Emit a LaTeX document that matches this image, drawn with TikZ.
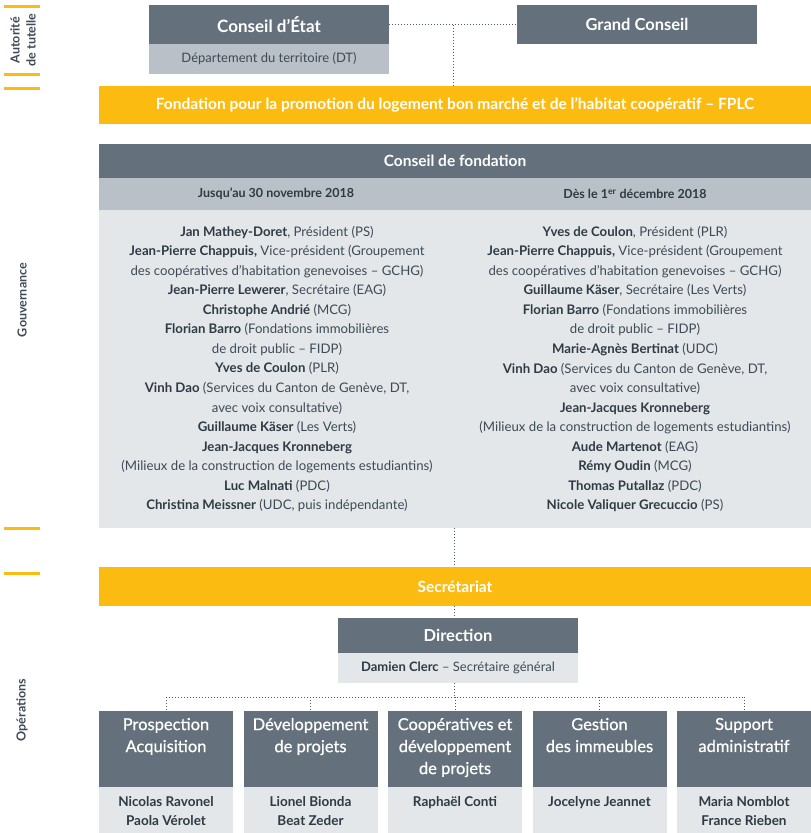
\documentclass[tikz,border=0pt]{standalone}
\usepackage{fontspec}
\setmainfont{Lato}
\newfontfamily\latomed[FakeBold=0.7]{Lato}
\usetikzlibrary{calc}
\definecolor{cdark}{HTML}{64707B}
\definecolor{cmid}{HTML}{B9C0C7}
\definecolor{clight}{HTML}{E4E7EA}
\definecolor{cyel}{HTML}{FBBB10}
\definecolor{ctext}{HTML}{3E4A55}
\definecolor{cname}{HTML}{2F3A44}
\definecolor{cdot}{HTML}{4F5A64}
\newcommand{\nm}[1]{\textbf{\color{cname}#1}}
\tikzset{
  box/.style={inner sep=0pt, outer sep=0pt, align=center},
  darkbox/.style={box, fill=cdark, text=white, font=\fontsize{16}{22}\selectfont},
  midbox/.style={box, fill=cmid, text=ctext, font=\fontsize{13}{16}\selectfont},
  lightbox/.style={box, fill=clight, text=ctext, font=\fontsize{13}{16}\selectfont},
  yelbox/.style={box, fill=cyel, text=white, font=\fontsize{15.5}{18}\bfseries\selectfont},
  link/.style={dotted, line width=1pt, cdot},
  marker/.style={cyel, line width=3pt},
  side/.style={rotate=90, text=ctext, font=\fontsize{12.5}{16}\bfseries\selectfont, align=center},
  members/.style={align=center, text=ctext, inner sep=0pt, font=\fontsize{13.2}{19.55}\selectfont},
  unitbox/.style={darkbox, minimum width=134pt, minimum height=76pt},
  unitname/.style={lightbox, minimum width=134pt, minimum height=46pt},
}
\begin{document}
\begin{tikzpicture}[x=1pt, y=-1pt]
\useasboundingbox (0,0) rectangle (811,833);

% side markers and section labels
\draw[marker] (4,6) -- (40,6);
\draw[marker] (4,74) -- (40,74);
\draw[marker] (4,88) -- (40,88);
\draw[marker] (4,528) -- (40,528);
\draw[marker] (4,573) -- (40,573);
\node[side] (lblaut) at (23,40) {Autorité\\de tutelle};
\node[side] (lblgov) at (22,300) {Gouvernance};
\node[side] (lblops) at (22,710) {Opérations};

% supervisory authority
\node[darkbox, font=\fontsize{17}{20}\bfseries\selectfont, minimum width=240pt, minimum height=39pt] (ce) at (269,24.5) {Conseil d’État};
\node[midbox, minimum width=240pt, minimum height=30pt, anchor=north] (dt) at (ce.south) {Département du territoire (DT)};
\node[darkbox, font=\fontsize{16.5}{20}\bfseries\selectfont, minimum width=240pt, minimum height=39pt] (gc) at (637,24.5) {Grand Conseil};

% foundation
\node[yelbox, minimum width=712pt, minimum height=38pt] (fplc) at (455,105) {Fondation pour la promotion du logement bon marché et de l’habitat coopératif – FPLC};

% governance
\node[darkbox, font=\fontsize{15.5}{18}\bfseries\selectfont, minimum width=712pt, minimum height=34pt] (cf) at (455,161) {Conseil de fondation};
\node[midbox, minimum width=712pt, minimum height=32pt, anchor=north] (hdr) at (cf.south) {};
\node[lightbox, minimum width=712pt, minimum height=318pt, anchor=north] (body) at (hdr.south) {};
\node[text=cname, font=\fontsize{12.5}{15}\bfseries\selectfont] (hleft) at (276,194) {Jusqu’au 30 novembre 2018};
\node[text=cname, font=\fontsize{12.5}{15}\bfseries\selectfont] (hright) at (635,194) {Dès le 1\textsuperscript{er} décembre 2018};

\node[members] (mleft) at (277,369) {%
\nm{Jan Mathey-Doret}, Président (PS)\\
\nm{Jean-Pierre Chappuis,} Vice-président (Groupement\\
des coopératives d’habitation genevoises – GCHG)\\
\nm{Jean-Pierre Lewerer}, Secrétaire (EAG)\\
\nm{Christophe Andrié} (MCG)\\
\nm{Florian Barro} (Fondations immobilières\\
de droit public – FIDP)\\
\nm{Yves de Coulon} (PLR)\\
\nm{Vinh Dao} (Services du Canton de Genève, DT,\\
avec voix consultative)\\
\nm{Guillaume Käser} (Les Verts)\\
\nm{Jean-Jacques Kronneberg}\\
(Milieux de la construction de logements estudiantins)\\
\nm{Luc Malnati} (PDC)\\
\nm{Christina Meissner} (UDC, puis indépendante)};

\node[members] (mright) at (635,369) {%
\nm{Yves de Coulon}, Président (PLR)\\
\nm{Jean-Pierre Chappuis,} Vice-président (Groupement\\
des coopératives d’habitation genevoises – GCHG)\\
\nm{Guillaume Käser}, Secrétaire (Les Verts)\\
\nm{Florian Barro} (Fondations immobilières\\
de droit public – FIDP)\\
\nm{Marie-Agnès Bertinat} (UDC)\\
\nm{Vinh Dao} (Services du Canton de Genève, DT,\\
avec voix consultative)\\
\nm{Jean-Jacques Kronneberg}\\
(Milieux de la construction de logements estudiantins)\\
\nm{Aude Martenot} (EAG)\\
\nm{Rémy Oudin} (MCG)\\
\nm{Thomas Putallaz} (PDC)\\
\nm{Nicole Valiquer Grecuccio} (PS)};

% operations
\node[yelbox, minimum width=712pt, minimum height=39pt] (sec) at (455,586.5) {Secrétariat};
\node[darkbox, font=\fontsize{16.5}{20}\bfseries\selectfont, minimum width=240pt, minimum height=35pt] (dir) at (458,635.5) {Direction};
\node[lightbox, minimum width=240pt, minimum height=30pt, anchor=north] (dirn) at (dir.south) {\nm{Damien Clerc} – Secrétaire général};

\foreach \i/\cx/\title/\names in {
  1/166/{Prospection\\Acquisition}/{Nicolas Ravonel\\Paola Vérolet},
  2/310.5/{Développement\\de projets}/{Lionel Bionda\\Beat Zeder},
  3/455/{Coopératives et\\développement\\de projets}/{Raphaël Conti},
  4/599.5/{Gestion\\des immeubles}/{Jocelyne Jeannet},
  5/744/{Support\\administratif}/{Maria Nomblot\\France Rieben}} {
  \node[unitbox, anchor=north] (u\i) at (\cx,711) {};
  \node[box, text=white, font=\latomed\fontsize{16.5}{22}\selectfont, anchor=north] (ut\i) at (\cx,718) {\title};
  \node[unitname, anchor=north] (un\i) at (u\i.south) {};
  \node[box, text=cname, font=\fontsize{13.5}{19}\bfseries\selectfont, anchor=north] (unt\i) at (\cx,796) {\names};
}

% connectors
\draw[link] (ce.east) -- (gc.west);
\draw[link] (453,24.5) -- (fplc.north -| 453,0);
\draw[link] (body.south -| 454,0) -- (sec.north -| 454,0);
\draw[link] (sec.south -| 454,0) -- (dir.north -| 454,0);
\coordinate (bus) at (454,697);
\draw[link] (dirn.south -| bus) -- (bus);
\draw[link] (u1.north |- bus) -- (u5.north |- bus);
\foreach \i in {1,...,5} {
  \draw[link] (u\i.north |- bus) -- (u\i.north);
}
\end{tikzpicture}
\end{document}
